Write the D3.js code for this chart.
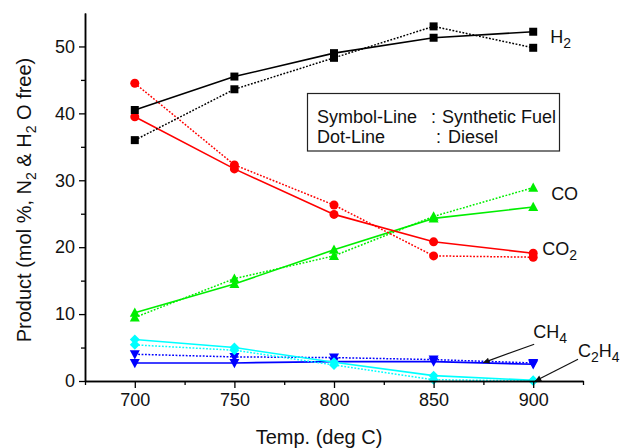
<!DOCTYPE html>
<html>
<head>
<meta charset="utf-8">
<script src="https://cdn.jsdelivr.net/npm/d3@7"></script>
<style>
  html, body { margin: 0; padding: 0; background: #fff; }
  svg { display: block; font-family: "Liberation Sans", Arial, sans-serif; }
</style>
</head>
<body>
<svg id="chart" width="621" height="448"></svg>
<script>
// Product gas composition vs. reforming temperature
const temps = [700, 750, 800, 850, 900];
const xTicks = [700, 750, 800, 850, 900];
const yTicks = [0, 10, 20, 30, 40, 50];

// Synthetic fuel (solid lines) and diesel (dotted lines), mol %
const h2Synthetic   = [40.5, 45.5, 49.0, 51.3, 52.2];
const h2Diesel      = [36.0, 43.6, 48.3, 53.0, 49.8];
const co2Synthetic  = [39.5, 31.7, 24.9, 20.8, 19.1];
const co2Diesel     = [44.5, 32.3, 26.3, 18.7, 18.5];
const coSynthetic   = [10.2, 14.5, 19.6, 24.3, 26.0];
const coDiesel      = [9.5, 15.3, 18.7, 24.6, 28.9];
const ch4Synthetic  = [2.7, 2.7, 2.9, 2.9, 2.5];
const ch4Diesel     = [4.0, 3.6, 3.5, 3.2, 2.7];
const c2h4Synthetic = [6.2, 5.0, 2.8, 0.8, 0.1];
const c2h4Diesel    = [5.4, 4.6, 2.4, 0.2, 0.0];

const svg = d3.select("#chart");
const plot = { left: 85, right: 583, top: 13, bottom: 381 };

const x = d3.scaleLinear().domain([675, 925]).range([plot.left, plot.right]);
const y = d3.scaleLinear().domain([0, 55]).range([plot.bottom, plot.top]);

// Marker shapes (custom symbol types, size = half-width)
const shapes = {
  square: { draw(c, r) { c.rect(-r, -r, 2 * r, 2 * r); } },
  circle: { draw(c, r) { c.moveTo(r, 0); c.arc(0, 0, r, 0, 2 * Math.PI); } },
  triUp: { draw(c, r) { c.moveTo(0, -r * 1.05); c.lineTo(r, r * 0.8); c.lineTo(-r, r * 0.8); c.closePath(); } },
  triDown: { draw(c, r) { c.moveTo(0, r * 1.05); c.lineTo(r, -r * 0.8); c.lineTo(-r, -r * 0.8); c.closePath(); } },
  diamond: { draw(c, r) { c.moveTo(0, -r); c.lineTo(r, 0); c.lineTo(0, r); c.lineTo(-r, 0); c.closePath(); } }
};

const series = [
  { syn: ch4Synthetic, die: ch4Diesel, color: "#0000ff", shape: "triDown", r: 5 },
  { syn: c2h4Synthetic, die: c2h4Diesel, color: "#00ffff", shape: "diamond", r: 5 },
  { syn: coSynthetic, die: coDiesel, color: "#00ee00", shape: "triUp", r: 5 },
  { syn: co2Synthetic, die: co2Diesel, color: "#ff0000", shape: "circle", r: 4.5 },
  { syn: h2Synthetic, die: h2Diesel, color: "#000000", shape: "square", r: 4 }
];

const line = d3.line().x(d => x(d[0])).y(d => y(d[1]));

series.forEach(s => {
  const g = svg.append("g");
  const synPts = temps.map((t, i) => [t, s.syn[i]]);
  const diePts = temps.map((t, i) => [t, s.die[i]]);
  g.append("path").attr("d", line(diePts)).attr("fill", "none")
    .attr("stroke", s.color).attr("stroke-width", 1.5).attr("stroke-dasharray", "1.8,1.6");
  g.append("path").attr("d", line(synPts)).attr("fill", "none")
    .attr("stroke", s.color).attr("stroke-width", 1.6);
  const sym = d3.symbol().type(shapes[s.shape]).size(s.r);
  [diePts, synPts].forEach(pts => {
    g.selectAll(null).data(pts).enter().append("path")
      .attr("d", sym)
      .attr("transform", d => `translate(${x(d[0])},${y(d[1])})`)
      .attr("fill", s.color);
  });
});

// Axes
const axisColor = "#000";
const xAxis = svg.append("g").attr("transform", `translate(0,${plot.bottom})`)
  .call(d3.axisBottom(x).tickValues(xTicks).tickSize(7).tickSizeOuter(0).tickPadding(5));
svg.append("g").attr("transform", `translate(0,${plot.bottom})`)
  .call(d3.axisBottom(x).tickValues([675, 725, 775, 825, 875, 925]).tickSize(4).tickSizeOuter(0).tickFormat(""));
const yAxis = svg.append("g").attr("transform", `translate(${plot.left},0)`)
  .call(d3.axisLeft(y).tickValues(yTicks).tickSize(6).tickSizeOuter(0).tickPadding(4));
svg.append("g").attr("transform", `translate(${plot.left},0)`)
  .call(d3.axisLeft(y).tickValues([5, 15, 25, 35, 45]).tickSize(4).tickSizeOuter(0).tickFormat(""));

svg.selectAll(".domain").attr("stroke", axisColor).attr("stroke-width", 1.5);
svg.selectAll(".tick line").attr("stroke", axisColor).attr("stroke-width", 1.3);
svg.selectAll(".tick text").attr("font-size", 18).attr("fill", "#111")
  .attr("font-family", "Liberation Sans, Arial, sans-serif");

// Axis titles
svg.append("text").attr("x", 319).attr("y", 444).attr("text-anchor", "middle")
  .attr("font-size", 20).attr("fill", "#111").text("Temp. (deg C)");

const yTitle = svg.append("text")
  .attr("transform", "translate(31,200) rotate(-90)")
  .attr("text-anchor", "middle").attr("font-size", 20).attr("fill", "#111");
yTitle.append("tspan").text("Product (mol %, N");
yTitle.append("tspan").attr("dy", 5).attr("font-size", 14).text("2");
yTitle.append("tspan").attr("dy", -5).text(" & H");
yTitle.append("tspan").attr("dy", 5).attr("font-size", 14).text("2");
yTitle.append("tspan").attr("dy", -5).text(" O free)");

// Legend box
const legend = svg.append("g");
legend.append("rect").attr("x", 307.5).attr("y", 93.5).attr("width", 252).attr("height", 57.5)
  .attr("fill", "#fff").attr("stroke", "#222").attr("stroke-width", 1.2);
const legendRows = [
  { a: "Symbol-Line", colon: 431, b: "Synthetic Fuel", bx: 442, y: 123 },
  { a: "Dot-Line", colon: 436, b: "Diesel", bx: 448, y: 143 }
];
legendRows.forEach(r => {
  legend.append("text").attr("x", 317).attr("y", r.y).attr("font-size", 18).attr("fill", "#111").text(r.a);
  legend.append("text").attr("x", r.colon).attr("y", r.y).attr("font-size", 18).attr("fill", "#111").text(":");
  legend.append("text").attr("x", r.bx).attr("y", r.y).attr("font-size", 18).attr("fill", "#111").text(r.b);
});

// Series labels (anchored in data units)
const seriesLabels = [
  { parts: [["H", 0], ["2", 1]], t: 908.5, v: 50.5 },
  { parts: [["CO", 0]], t: 909, v: 27.05 },
  { parts: [["CO", 0], ["2", 1]], t: 904.5, v: 18.8 },
  { parts: [["CH", 0], ["4", 1]], t: 900, v: 6.4 },
  { parts: [["C", 0], ["2", 1], ["H", 0], ["4", 1]], t: 922.5, v: 3.6 }
];
seriesLabels.forEach(l => {
  const t = svg.append("text").attr("x", x(l.t)).attr("y", y(l.v))
    .attr("font-size", 18).attr("fill", "#111");
  let low = false;
  l.parts.forEach(([txt, sub]) => {
    const ts = t.append("tspan").text(txt);
    if (sub && !low) { ts.attr("dy", 5).attr("font-size", 14); low = true; }
    else if (sub) { ts.attr("font-size", 14); }
    else if (low) { ts.attr("dy", -5); low = false; }
  });
});

// Leader arrows for the small species
svg.append("defs").append("marker").attr("id", "arrow")
  .attr("viewBox", "0 0 10 10").attr("refX", 10).attr("refY", 5)
  .attr("markerWidth", 9).attr("markerHeight", 6).attr("markerUnits", "userSpaceOnUse")
  .attr("orient", "auto")
  .append("path").attr("d", "M0,0L10,5L0,10Z").attr("fill", "#111");
const arrows = [
  { from: [900.5, 5.5], to: [875, 2.75] },
  { from: [922.5, 3.25], to: [901, 0.0] }
];
arrows.forEach(a => {
  svg.append("line")
    .attr("x1", x(a.from[0])).attr("y1", y(a.from[1]))
    .attr("x2", x(a.to[0])).attr("y2", y(a.to[1]))
    .attr("stroke", "#111").attr("stroke-width", 1.2).attr("marker-end", "url(#arrow)");
});
</script>
</body>
</html>
